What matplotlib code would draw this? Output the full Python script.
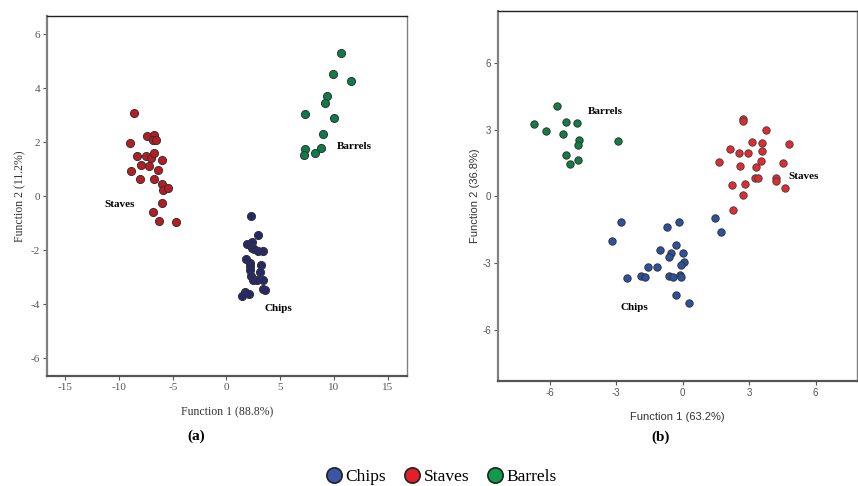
import matplotlib
matplotlib.use('Agg')
import matplotlib.pyplot as plt
from matplotlib.lines import Line2D

plt.rcParams['axes.unicode_minus'] = False

# Panel (a) discriminant scores
a_chips_x = [2.28, 2.89, 1.90, 2.40, 2.40, 2.55, 2.96, 3.39, 1.81, 2.18, 2.18, 3.20,
             2.18, 3.14, 2.28, 2.46, 2.83, 3.39, 3.42, 3.61, 1.69, 2.09, 1.41]
a_chips_y = [-0.73, -1.43, -1.75, -1.68, -1.90, -1.95, -2.01, -2.01, -2.33, -2.48, -2.60, -2.56,
             -2.73, -2.80, -2.94, -3.11, -3.11, -3.11, -3.42, -3.47, -3.53, -3.62, -3.70]
a_staves_x = [-8.56, -9.02, -7.38, -6.74, -6.86, -6.58, -8.37, -7.45, -7.01, -6.74, -6.02, -7.91,
              -7.17, -8.90, -6.33, -8.07, -6.70, -5.96, -5.90, -5.43, -5.96, -6.83, -6.30, -4.72]
a_staves_y = [3.07, 1.98, 2.23, 2.27, 2.09, 2.09, 1.49, 1.48, 1.43, 1.60, 1.36, 1.16,
              1.14, 0.93, 0.98, 0.65, 0.63, 0.46, 0.25, 0.32, -0.26, -0.60, -0.91, -0.94]
a_barrels_x = [10.67, 9.92, 11.59, 9.33, 9.21, 7.26, 10.02, 8.96, 7.26, 8.84, 8.28, 7.20]
a_barrels_y = [5.30, 4.52, 4.26, 3.73, 3.46, 3.04, 2.89, 2.30, 1.74, 1.78, 1.60, 1.52]

# Panel (b) discriminant scores
b_chips_x = [-2.78, -0.18, -3.18, -0.71, 1.44, 1.73, -0.32, -1.02, -0.53, 0.00, -0.62, 0.05,
             -0.08, -1.55, -1.16, -2.51, -1.88, -1.70, -0.60, -0.45, -0.12, -0.08, -0.29, 0.30]
b_chips_y = [-1.17, -1.16, -2.03, -1.40, -0.96, -1.62, -2.21, -2.42, -2.57, -2.54, -2.75, -2.96,
             -3.08, -3.20, -3.20, -3.69, -3.59, -3.64, -3.58, -3.65, -3.56, -3.64, -4.46, -4.82]
b_staves_x = [2.71, 2.72, 3.74, 4.81, 3.14, 3.59, 2.12, 2.55, 2.96, 3.58, 1.65, 2.58,
              3.31, 3.52, 4.54, 3.26, 3.41, 4.19, 4.22, 4.60, 2.21, 2.81, 2.72, 2.27]
b_staves_y = [3.47, 3.41, 3.00, 2.37, 2.46, 2.40, 2.15, 1.97, 1.95, 2.04, 1.56, 1.38,
              1.33, 1.60, 1.49, 0.84, 0.83, 0.81, 0.70, 0.36, 0.52, 0.55, 0.07, -0.63]
b_barrels_x = [-5.66, -6.69, -6.17, -5.25, -4.75, -5.38, -4.68, -4.74, -2.93, -5.25, -4.72, -5.08]
b_barrels_y = [4.08, 3.27, 2.94, 3.35, 3.32, 2.82, 2.54, 2.30, 2.49, 1.85, 1.62, 1.47]

serif = 'Liberation Serif'
sans = 'Liberation Sans'

fig = plt.figure(figsize=(8.58, 4.86), dpi=100)
ax1 = fig.add_axes([0.0548, 0.2263, 0.4196, 0.7408])
ax2 = fig.add_axes([0.5804, 0.2160, 0.4184, 0.7614])

# --- panel (a) ---
ax1.scatter(a_chips_x, a_chips_y, s=34, color='#27276b', edgecolor='#333333', linewidth=0.7, zorder=3)
ax1.scatter(a_staves_x, a_staves_y, s=34, color='#b81c22', edgecolor='#333333', linewidth=0.7, zorder=3)
ax1.scatter(a_barrels_x, a_barrels_y, s=34, color='#0b7d48', edgecolor='#333333', linewidth=0.7, zorder=3)
ax1.set_xlim(-16.7, 16.8)
ax1.set_ylim(-6.66, 6.68)
ax1.set_xticks([-15, -10, -5, 0, 5, 10, 15])
ax1.set_yticks([-6, -4, -2, 0, 2, 4, 6])
ax1.set_xlabel('Function 1 (88.8%)', fontfamily=serif, fontsize=8.5, color='#333333', labelpad=10)
ax1.set_ylabel('Function 2 (11.2%)', fontfamily=serif, fontsize=8.5, color='#333333', labelpad=3)
ax1.tick_params(labelsize=8)
for lab in ax1.get_xticklabels() + ax1.get_yticklabels():
    lab.set_fontfamily(serif)
ax1.text(-9.9, -0.32, 'Staves', fontfamily=serif, fontweight='bold', fontsize=8, ha='center', va='center')
ax1.text(11.9, 1.86, 'Barrels', fontfamily=serif, fontweight='bold', fontsize=8, ha='center', va='center')
ax1.text(4.85, -4.15, 'Chips', fontfamily=serif, fontweight='bold', fontsize=8, ha='center', va='center')

# --- panel (b) ---
ax2.scatter(b_chips_x, b_chips_y, s=28, color='#2a52a0', edgecolor='#333333', linewidth=0.7, zorder=3)
ax2.scatter(b_staves_x, b_staves_y, s=28, color='#e8282f', edgecolor='#444444', linewidth=0.7, zorder=3)
ax2.scatter(b_barrels_x, b_barrels_y, s=28, color='#0f7f44', edgecolor='#333333', linewidth=0.7, zorder=3)
ax2.set_xlim(-8.33, 7.86)
ax2.set_ylim(-8.32, 8.35)
ax2.set_xticks([-6, -3, 0, 3, 6])
ax2.set_yticks([-6, -3, 0, 3, 6])
ax2.set_xlabel('Function 1 (63.2%)', fontfamily=sans, fontsize=8, color='#333333', labelpad=10)
ax2.set_ylabel('Function 2 (36.8%)', fontfamily=sans, fontsize=8, color='#333333', labelpad=2)
ax2.tick_params(labelsize=7)
for lab in ax2.get_xticklabels() + ax2.get_yticklabels():
    lab.set_fontfamily(sans)
ax2.text(-3.5, 3.80, 'Barrels', fontfamily=serif, fontweight='bold', fontsize=8, ha='center', va='center')
ax2.text(5.45, 0.88, 'Staves', fontfamily=serif, fontweight='bold', fontsize=8, ha='center', va='center')
ax2.text(-2.2, -5.0, 'Chips', fontfamily=serif, fontweight='bold', fontsize=8, ha='center', va='center')

for ax in (ax1, ax2):
    ax.tick_params(direction='out', length=3, width=0.8, colors='#555555',
                   top=False, right=False, pad=2)
    ax.spines['left'].set_color('#808080')
    ax.spines['bottom'].set_color('#555555')
    ax.spines['left'].set_linewidth(1.6)
    ax.spines['bottom'].set_linewidth(1.6)
    ax.spines['top'].set_color('#222222')
    ax.spines['right'].set_color('#808080')
    ax.spines['top'].set_linewidth(1.0)
    ax.spines['right'].set_linewidth(1.0)

fig.text(196 / 858, 1 - 436 / 486, '(a)', fontfamily=serif, fontweight='bold', fontsize=11, ha='center', va='center')
fig.text(661 / 858, 1 - 437 / 486, '(b)', fontfamily=serif, fontweight='bold', fontsize=11, ha='center', va='center')

handles = [Line2D([], [], marker='o', linestyle='', markersize=11, markerfacecolor=c,
                  markeredgecolor='#222222', markeredgewidth=1.2)
           for c in ['#3a57a7', '#e32028', '#0f9b4c']]
fig.legend(handles, ['Chips', 'Staves', 'Barrels'], loc='center', bbox_to_anchor=(0.513, 1 - 477 / 486),
           ncol=3, frameon=False, prop={'family': serif, 'size': 12.5}, handletextpad=0.05,
           columnspacing=0.9, handlelength=1.2)

fig.savefig('out.png', dpi=100)
